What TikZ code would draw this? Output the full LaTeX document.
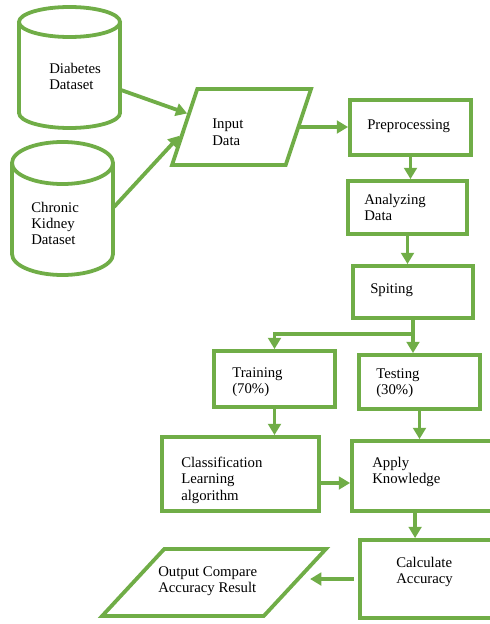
\documentclass[tikz,border=0pt]{standalone}
\usepackage{fontspec}
\setmainfont{Liberation Serif}
\usetikzlibrary{shapes.geometric, arrows.meta}
\definecolor{leaf}{HTML}{70AD47}

\begin{document}
\begin{tikzpicture}[x=0.025cm, y=-0.025cm,
	box/.style={draw=leaf, line width=2.7pt, shape=rectangle},
	slant/.style={draw=leaf, line width=2.7pt, shape=trapezium, trapezium stretches=true},
	txt/.style={anchor=north west, align=left, inner sep=0pt, font=\fontsize{10.5}{11.5}\selectfont},
	flow/.style={draw=leaf, line width=2.7pt, -{Triangle[length=8pt, width=9pt]}}]
	\useasboundingbox (0, 0) rectangle (490, 624);
	% data sources
	\path[draw=leaf, line width=2.7pt] (69.5, 22) ellipse[x radius=1.2625cm, y radius=0.375cm];
	\path[draw=leaf, line width=2.7pt] (19, 22) -- (19, 113) arc[start angle=180, end angle=360, x radius=1.2625cm, y radius=0.375cm] -- (120, 22);
	\path[draw=leaf, line width=2.7pt] (62.5, 163) ellipse[x radius=1.2625cm, y radius=0.525cm];
	\path[draw=leaf, line width=2.7pt] (12, 163) -- (12, 254) arc[start angle=180, end angle=360, x radius=1.2625cm, y radius=0.525cm] -- (113, 163);
	\coordinate (diaR) at (121, 90);
	\coordinate (chrR) at (114, 207);
	\node[txt] (diaT) at (49, 63) {Diabetes\\Dataset};
	\node[txt] (chrT) at (31, 202) {Chronic\\Kidney\\Dataset};
	% flow chart
	\node[slant, trapezium left angle=74, trapezium right angle=106, minimum width=3.475cm, minimum height=1.9cm] (inp) at (241.5, 127){} node[txt] (inpT) at (212, 119){Input\\Data};
	\node[box, minimum width=3.025cm, minimum height=1.375cm] (pre) at (410.5, 127.5){} node[txt] (preT) at (367, 119){Preprocessing};
	\node[box, minimum width=2.975cm, minimum height=1.325cm] (ana) at (407.5, 207.5){} node[txt] (anaT) at (364, 194){Analyzing\\Data};
	\node[box, minimum width=3cm, minimum height=1.3cm] (spl) at (413, 292){} node[txt] (splT) at (370, 283){Spiting};
	\node[box, minimum width=3.025cm, minimum height=1.4cm] (trn) at (274.5, 379){} node[txt] (trnT) at (232, 367){Training\\(70\%)};
	\node[box, minimum width=3.025cm, minimum height=1.35cm] (tst) at (419.5, 382){} node[txt] (tstT) at (376, 368){Testing\\(30\%)};
	\node[box, minimum width=3.925cm, minimum height=1.85cm] (cls) at (240.5, 474){} node[txt] (clsT) at (181, 457){Classification\\Learning\\algorithm};
	\node[box, minimum width=3.9cm, minimum height=1.75cm] (app) at (430, 476){} node[txt] (appT) at (372, 457){Apply\\Knowledge};
	\node[box, minimum width=3.825cm, minimum height=1.95cm] (cal) at (436.5, 579){} node[txt] (calT) at (396, 557){Calculate\\Accuracy};
	\node[slant, trapezium left angle=58, trapezium right angle=122, minimum width=5.6cm, minimum height=1.675cm] (out) at (214, 582.5){} node[txt] (outT) at (158, 566){Output Compare\\Accuracy Result};
	% connectors
	\draw[flow] (diaR) -- (inp.166);
	\draw[flow] (chrR) -- (inp.188);
	\draw[flow] (inp.east) -- (inp.east -| pre.west);
	\draw[flow] (pre.south) -- (pre.south |- ana.north);
	\draw[flow] (ana.south) -- (ana.south |- spl.north);
	\draw[flow] (spl.south) -- (spl.south |- tst.north);
	\draw[flow] (spl.south) -- ++(0, 14) -| (trn.north);
	\draw[flow] (trn.south) -- (trn.south |- cls.north);
	\draw[flow] (tst.south) -- (tst.south |- app.north);
	\draw[flow] ([yshift=-6.4pt]cls.east) -- ([yshift=-6.4pt]cls.east -| app.west);
	\draw[flow] ([xshift=-10.6pt]app.south) -- ([xshift=-10.6pt]app.south |- cal.north);
	\draw[flow, shorten <=3pt, shorten >=9pt] (cal.west) -- (cal.west -| out.east);
\end{tikzpicture}
\end{document}
